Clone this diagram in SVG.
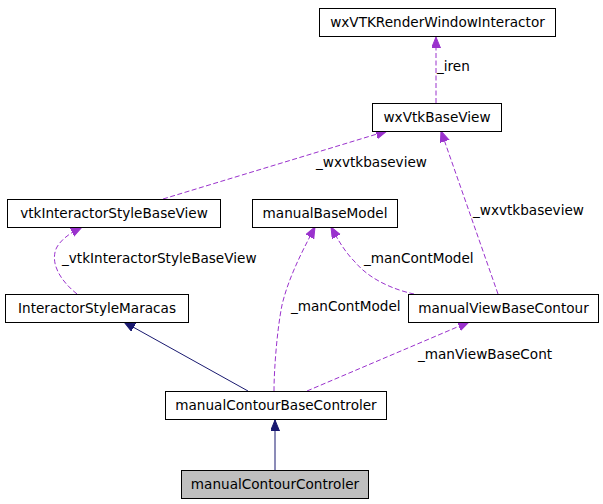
<svg xmlns="http://www.w3.org/2000/svg" width="603" height="504" viewBox="0 0 603 504">
<style>
.node rect{fill:#ffffff;stroke:#000000;stroke-width:1}
.node.cur rect{fill:#bfbfbf}
text{font-family:"DejaVu Sans",Verdana,sans-serif;font-size:13.6px;fill:#000000}
.node text{text-anchor:middle}
.dep{fill:none;stroke:#9a32cd;stroke-width:1;stroke-dasharray:5,2.5}
.inh{fill:none;stroke:#191970;stroke-width:1}
</style>
<defs>
<marker id="ap" markerUnits="userSpaceOnUse" markerWidth="12" markerHeight="10" refX="11" refY="4.5" orient="auto" viewBox="0 0 12 10">
<path d="M0,0 L11,4.5 L0,9 z" fill="#9a32cd" stroke="#9a32cd" stroke-dasharray="none"/>
</marker>
<marker id="an" markerUnits="userSpaceOnUse" markerWidth="12" markerHeight="10" refX="11" refY="4.5" orient="auto" viewBox="0 0 12 10">
<path d="M0,0 L11,4.5 L0,9 z" fill="#191970" stroke="#191970" stroke-dasharray="none"/>
</marker>
</defs>
<rect width="603" height="504" fill="#ffffff"/>
<g id="connectors">
<path class="dep" d="M436,103 L436,37" marker-end="url(#ap)"/>
<text x="437" y="71">_iren</text>
<path class="dep" d="M163,199 L387,131" marker-end="url(#ap)"/>
<text x="316" y="167">_wxvtkbaseview</text>
<path class="dep" d="M498,294 L441,131" marker-end="url(#ap)"/>
<text x="473" y="215">_wxvtkbaseview</text>
<path class="dep" d="M77,294 C62,282 50,265 56,249 C60,240 70,233 82,227" marker-end="url(#ap)"/>
<text x="62" y="263">_vtkInteractorStyleBaseView</text>
<path class="dep" d="M414,294 C395,290 370,280 355,262 C345,252 338,240 331,227" marker-end="url(#ap)"/>
<text x="364" y="263">_manContModel</text>
<path class="dep" d="M274,391 C274,370 277,330 282,305 C288,280 300,255 315,227" marker-end="url(#ap)"/>
<text x="291" y="311">_manContModel</text>
<path class="dep" d="M307,391 L469,322" marker-end="url(#ap)"/>
<text x="418" y="359">_manViewBaseCont</text>
<path class="inh" d="M248,391 L124,322" marker-end="url(#an)"/>
<path class="inh" d="M275,470 L275,420" marker-end="url(#an)"/>
</g>
<g id="wxVTKRenderWindowInteractor" class="node"><rect x="319.5" y="8.5" width="236" height="28"/><text x="437.5" y="27">wxVTKRenderWindowInteractor</text></g>
<g id="wxVtkBaseView" class="node"><rect x="372.5" y="103.5" width="129" height="28"/><text x="437" y="122">wxVtkBaseView</text></g>
<g id="vtkInteractorStyleBaseView" class="node"><rect x="7.5" y="199.5" width="213" height="28"/><text x="114" y="218">vtkInteractorStyleBaseView</text></g>
<g id="manualBaseModel" class="node"><rect x="252.5" y="199.5" width="145" height="28"/><text x="325" y="218">manualBaseModel</text></g>
<g id="InteractorStyleMaracas" class="node"><rect x="5.5" y="294.5" width="183" height="28"/><text x="97" y="313">InteractorStyleMaracas</text></g>
<g id="manualViewBaseContour" class="node"><rect x="408.5" y="294.5" width="190" height="28"/><text x="503.5" y="313">manualViewBaseContour</text></g>
<g id="manualContourBaseControler" class="node"><rect x="165.5" y="391.5" width="221" height="28"/><text x="276" y="410">manualContourBaseControler</text></g>
<g id="manualContourControler" class="node cur"><rect x="181.5" y="470.5" width="187" height="28"/><text x="275" y="489">manualContourControler</text></g>
</svg>
